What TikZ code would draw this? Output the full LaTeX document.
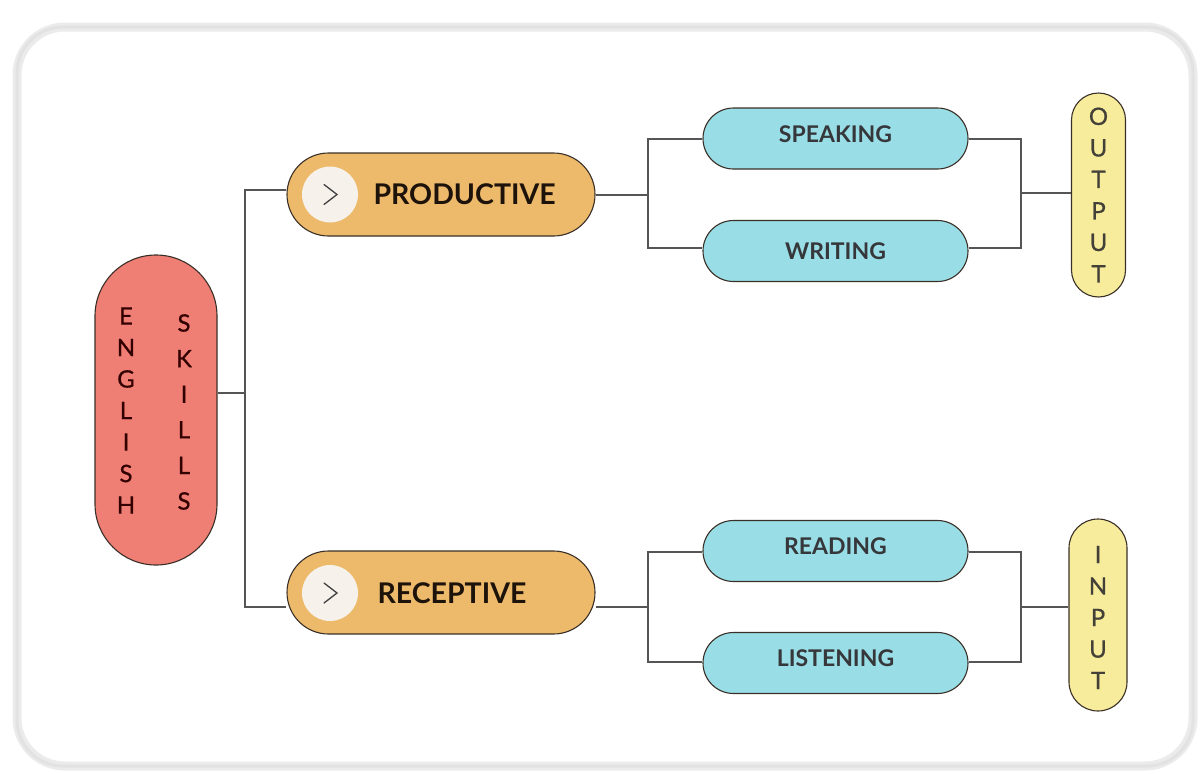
\documentclass[tikz,border=0pt]{standalone}
\usepackage{fontspec}
\setmainfont{Lato}
\newfontfamily\latomed{Lato}[FakeBold=0.7]
\definecolor{salmon}{HTML}{EF7E74}
\definecolor{orangeb}{HTML}{EDBA6B}
\definecolor{cyanb}{HTML}{99DEE6}
\definecolor{yellowb}{HTML}{F7EC9C}
\definecolor{edge}{HTML}{3A3028}
\definecolor{conng}{HTML}{555555}
\definecolor{circ}{HTML}{F6F1EA}
\definecolor{framec}{HTML}{E2E2E2}
\begin{document}
\begin{tikzpicture}[x=1pt,y=-1pt,
  capsule/.style={draw=edge,line width=1.1pt,rounded corners=#1,inner sep=0pt},
  conn/.style={draw=conng,line width=1.3pt},
  lettercol/.style={align=center,inner sep=0pt,font=\latomed\fontsize{24}{31.5}\selectfont},
  bigtext/.style={font=\fontsize{28.5}{30}\selectfont\bfseries,text=black!85!brown},
  smalltext/.style={font=\fontsize{23}{26}\selectfont\bfseries,text=black!80!cyan!60!black},
  chev/.style={draw=black!75,line width=1.3pt,line cap=round,line join=miter}
]
\useasboundingbox (0,0) rectangle (1203,774);
% outer frame
\draw[draw=framec!70,line width=9pt,rounded corners=48pt] (17,27) rectangle (1193,766);
\draw[draw=framec,line width=3pt,rounded corners=46pt] (17,27) rectangle (1193,766);

% English skills
\node[capsule=61pt,fill=salmon,minimum width=122pt,minimum height=310pt] (eng) at (156,410) {};
\node[lettercol,text=black!80!red] (engA) at (126,410.5) {E\\N\\G\\L\\I\\S\\H};
\node[lettercol,text=black!80!red,font=\latomed\fontsize{24}{35.6}\selectfont] (engB) at (184,412) {S\\K\\I\\L\\L\\S};

% productive / receptive
\node[capsule=41.5pt,fill=orangeb,minimum width=308pt,minimum height=83pt] (prod) at (441,194.5) {};
\node[circle,fill=circ,minimum size=56pt,inner sep=0pt] (pc) at (330,194.5) {};
\draw[chev] ([shift={(-6,-10)}]pc.center) -- ([shift={(7,0)}]pc.center) -- ([shift={(-6,10)}]pc.center);
\node[bigtext,anchor=west] (prodt) at (370,194.5) {PRODUCTIVE};

\node[capsule=41.5pt,fill=orangeb,minimum width=308pt,minimum height=83pt] (rec) at (441,592.5) {};
\node[circle,fill=circ,minimum size=56pt,inner sep=0pt] (rc) at (330,593) {};
\draw[chev] ([shift={(-6,-10)}]rc.center) -- ([shift={(7,0)}]rc.center) -- ([shift={(-6,10)}]rc.center);
\node[bigtext,anchor=west] (rect) at (374,593) {RECEPTIVE};

% skills
\node[capsule=30.5pt,fill=cyanb,minimum width=265pt,minimum height=61pt] (spk) at (835.5,138.5) {};
\node[smalltext] (spkt) at (835.5,134) {SPEAKING};
\node[capsule=30.5pt,fill=cyanb,minimum width=265pt,minimum height=61pt] (wri) at (835.5,251) {};
\node[smalltext] (writ) at (835.5,251) {WRITING};
\node[capsule=30.5pt,fill=cyanb,minimum width=265pt,minimum height=61pt] (rea) at (835.5,551) {};
\node[smalltext] (reat) at (835.5,546.5) {READING};
\node[capsule=30.5pt,fill=cyanb,minimum width=265pt,minimum height=61pt] (lis) at (835.5,663) {};
\node[smalltext] (list) at (835.5,658.5) {LISTENING};

% output / input
\node[capsule=27pt,fill=yellowb,minimum width=54pt,minimum height=204pt] (out) at (1098.5,195) {};
\node[lettercol,text=black!85!yellow] (outt) at (1098.5,195) {O\\U\\T\\P\\U\\T};
\node[capsule=29pt,fill=yellowb,minimum width=58pt,minimum height=192pt] (inp) at (1098,615) {};
\node[lettercol,text=black!85!yellow] (inpt) at (1098,617.5) {I\\N\\P\\U\\T};

% junctions
\coordinate (j1) at (245,393);
\coordinate (j2) at (648,195);
\coordinate (j3) at (1021,193);
\coordinate (j4) at (648,607);
\coordinate (j5) at (1021,607);

% connectors
\draw[conn] (eng.east |- j1) -- (j1);
\draw[conn] ([yshift=4.5pt]prod.west) -| (j1) |- ([yshift=-14.5pt]rec.west);
\draw[conn] (prod.east |- j2) -- (j2);
\draw[conn] ([yshift=-0.5pt]spk.west) -| (j2) |- ([yshift=3pt]wri.west);
\draw[conn] ([yshift=-0.5pt]spk.east) -| (j3) |- ([yshift=3pt]wri.east);
\draw[conn] (j3) -- (j3 -| out.west);
\draw[conn] (rec.east |- j4) -- (j4);
\draw[conn] ([yshift=-1pt]rea.west) -| (j4) |- ([yshift=1pt]lis.west);
\draw[conn] ([yshift=-1pt]rea.east) -| (j5) |- ([yshift=1pt]lis.east);
\draw[conn] (j5) -- (j5 -| inp.west);
\end{tikzpicture}
\end{document}
